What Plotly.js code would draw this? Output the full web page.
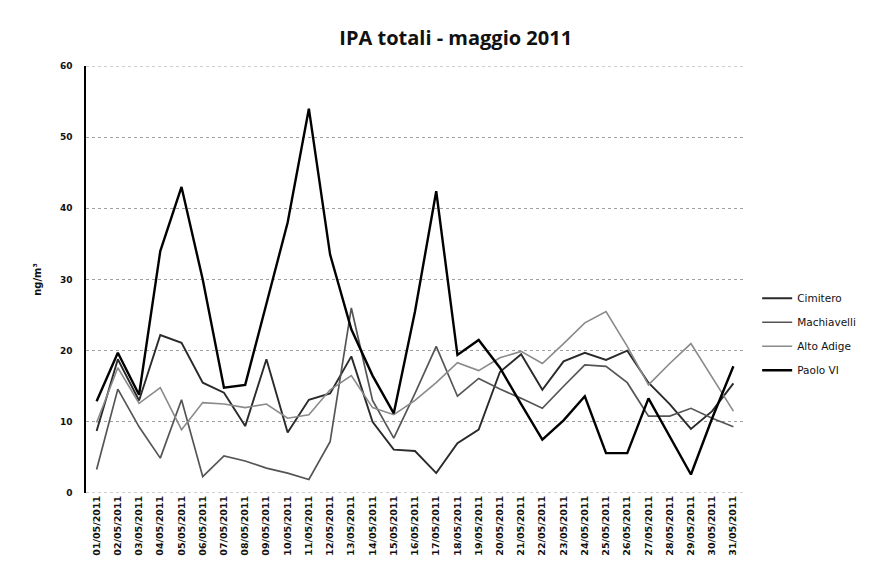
<!DOCTYPE html>
<html>
<head>
<meta charset="utf-8">
<script src="https://cdn.plot.ly/plotly-3.0.1.min.js"></script>
<style>
  html, body { margin: 0; padding: 0; background: #ffffff; }
  #chart { width: 873px; height: 583px; }
</style>
</head>
<body>
<div id="chart"></div>
<script>
var dates = ['01/05/2011','02/05/2011','03/05/2011','04/05/2011','05/05/2011','06/05/2011','07/05/2011','08/05/2011','09/05/2011','10/05/2011','11/05/2011','12/05/2011','13/05/2011','14/05/2011','15/05/2011','16/05/2011','17/05/2011','18/05/2011','19/05/2011','20/05/2011','21/05/2011','22/05/2011','23/05/2011','24/05/2011','25/05/2011','26/05/2011','27/05/2011','28/05/2011','29/05/2011','30/05/2011','31/05/2011'];

var cimitero = [8.7, 18.8, 13, 22.2, 21.1, 15.5, 14.1, 9.4, 18.8, 8.5, 13.1, 14, 19.2, 10, 6.1, 5.9, 2.8, 7, 8.9, 17, 19.5, 14.5, 18.5, 19.7, 18.7, 20, 15.5, 12.5, 9, 11.5, 15.4];
var machiavelli = [3.3, 14.6, 9.3, 4.9, 13.1, 2.3, 5.2, 4.5, 3.5, 2.8, 1.9, 7.2, 26, 13, 7.7, 14, 20.6, 13.6, 16.1, 14.6, 13.3, 11.9, 15, 18, 17.8, 15.5, 10.8, 10.8, 11.9, 10.5, 9.3];
var altoAdige = [9.9, 17.6, 12.6, 14.8, 8.9, 12.7, 12.5, 12, 12.5, 10.5, 11, 14.5, 16.5, 12, 11, 13, 15.5, 18.3, 17.2, 19, 19.9, 18.2, 21, 23.9, 25.5, 20.6, 15.2, 18.2, 21, 16.2, 11.5];
var paoloVI = [12.9, 19.7, 13.8, 34, 43, 30, 14.8, 15.2, 26.6, 38, 54, 33.5, 23, 16.5, 11.2, 25.5, 42.4, 19.4, 21.5, 17.6, 12.5, 7.5, 10.2, 13.6, 5.6, 5.6, 13.3, 8, 2.6, 10.5, 17.8];

var seriesNames = ['Cimitero', 'Machiavelli', 'Alto Adige', 'Paolo VI'];
var seriesValues = [cimitero, machiavelli, altoAdige, paoloVI];
var seriesColors = ['#2a2a2a', '#555555', '#8a8a8a', '#000000'];
var seriesWidths = [1.9, 1.7, 1.6, 2.4];

var traces = seriesNames.map(function (n, i) {
  return {
    type: 'scatter',
    mode: 'lines',
    name: n,
    legendgroup: 'g' + i,
    x: dates,
    y: seriesValues[i],
    line: { color: seriesColors[i], width: seriesWidths[i] }
  };
});

var layout = {
  width: 873,
  height: 583,
  paper_bgcolor: '#ffffff',
  plot_bgcolor: '#ffffff',
  margin: { l: 86, r: 123, t: 66, b: 90 },
  font: { family: 'DejaVu Sans', color: '#111111' },
  title: {
    text: '<b>IPA totali - maggio 2011</b>',
    font: { family: 'Open Sans', size: 20, color: '#111111' },
    x: 0.522, xref: 'container', xanchor: 'center',
    y: 0.935, yref: 'container', yanchor: 'middle'
  },
  xaxis: {
    type: 'category',
    range: [-0.5, 30.5],
    tickangle: -90,
    tickfont: { family: 'DejaVu Sans', size: 9.5, weight: 'bold', color: '#111111' },
    showgrid: false,
    zeroline: false,
    showline: false,
    ticks: ''
  },
  yaxis: {
    range: [0, 60],
    dtick: 10,
    tick0: 0,
    tickfont: { family: 'DejaVu Sans', size: 9, weight: 'bold', color: '#111111' },
    showgrid: true,
    gridcolor: '#a0a0a0',
    griddash: 'dot',
    gridwidth: 1,
    zeroline: false,
    showline: true,
    linecolor: '#000000',
    linewidth: 1.6,
    ticks: '',
    ticklabelstandoff: 10,
    title: {
      text: '<b>ng/m³</b>',
      font: { family: 'DejaVu Sans', size: 10, color: '#111111' },
      standoff: 16
    }
  },
  shapes: [
    { type: 'line', xref: 'paper', yref: 'y', x0: 0, x1: 1, y0: 0, y1: 0,
      line: { color: '#a0a0a0', width: 1, dash: 'dot' }, layer: 'below' },
    { type: 'line', xref: 'paper', yref: 'y', x0: 0, x1: 1, y0: 60, y1: 60,
      line: { color: '#a0a0a0', width: 1, dash: 'dot' }, layer: 'below' }
  ],
  legend: {
    x: 1.02, xanchor: 'left',
    y: 0.49, yanchor: 'top',
    font: { family: 'DejaVu Sans', size: 10.5, color: '#111111' },
    tracegroupgap: 5,
    itemwidth: 30,
    bgcolor: 'rgba(0,0,0,0)'
  },
  showlegend: true
};

Plotly.newPlot('chart', traces, layout, { displayModeBar: false, staticPlot: true });
</script>
</body>
</html>
